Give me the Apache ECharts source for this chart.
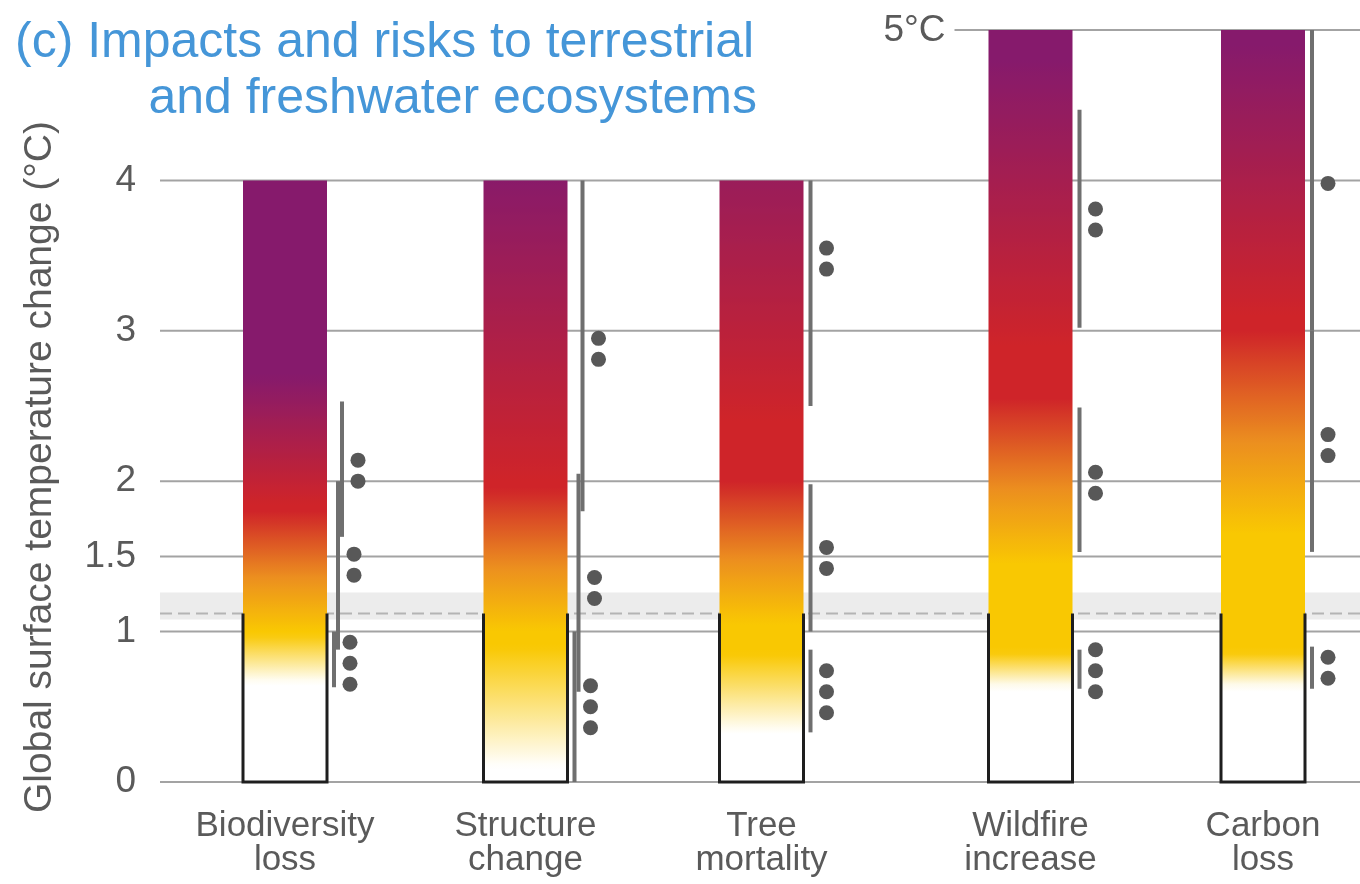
<!DOCTYPE html>
<html>
<head>
<meta charset="utf-8">
<script src="https://cdn.jsdelivr.net/npm/echarts@6/dist/echarts.min.js"></script>
<style>
  html, body { margin: 0; padding: 0; background: #ffffff; }
  #chart { width: 1360px; height: 884px; }
</style>
</head>
<body>
<div id="chart"></div>
<script>
// ---- data (°C of global surface temperature change) ----
const categories = ['Biodiversity\nloss', 'Structure\nchange', 'Tree\nmortality', 'Wildfire\nincrease', 'Carbon\nloss'];
const yTicks = [0, 1, 1.5, 2, 3, 4];
const topTick = 5;
const topTickLabel = '5°C';
const emberTop = [4, 4, 4, 5, 5];

// colour transitions of each ember: white->yellow, yellow->red, red->purple
const toModerate = [[0.66, 0.98], [0.10, 0.90], [0.33, 0.85], [0.63, 0.86], [0.63, 0.86]];
const toHigh     = [[1.00, 1.80], [1.00, 1.95], [1.05, 2.00], [1.45, 2.55], [1.65, 3.00]];
const toVeryHigh = [[1.85, 2.70], [2.00, 4.10], [2.40, 4.60], [2.90, 4.80], [3.10, 4.90]];

// confidence ranges of the transitions, number of dots and where the dots sit
const moderateRange  = [[0.63, 1.00], [0.00, 1.00], [0.33, 0.88], [0.62, 0.88], [0.62, 0.90]];
const moderateDots   = [3, 3, 3, 3, 2];
const moderateDotsAt = [0.79, 0.50, 0.60, 0.74, 0.76];
const highRange      = [[0.88, 2.00], [0.60, 2.05], [1.00, 1.98], [1.53, 2.49], [1.53, 3.00]];
const highDots       = [2, 2, 2, 2, 2];
const highDotsAt     = [1.445, 1.29, 1.49, 1.99, 2.24];
const veryHighRange  = [[1.63, 2.53], [1.80, 4.00], [2.50, 4.00], [3.02, 4.47], [3.00, 5.00]];
const veryHighDots   = [2, 2, 2, 2, 1];
const veryHighDotsAt = [2.07, 2.88, 3.48, 3.74, 3.98];

// present-day warming band and level
const presentDayBand = [1.08, 1.26];
const presentDay = 1.12;

// ---- styling / layout ----
const FONT = '"Liberation Sans", Arial, sans-serif';
const TEXT = '#5a5a5a';
const GRID = '#a3a3a3';
const EMBER_COLORS = { white: '#ffffff', yellow: '#f9c802', orange: '#ec8f1f', red: '#cf2429', purple: '#861a6c' };
const EMBER_WIDTH = 84;
const columnNudge = [5, 5.5, 1.5, 30.5, 23];   // px shift of each column from its band centre

function hexToRgb(h) {
  const n = parseInt(h.slice(1), 16);
  return [(n >> 16) & 255, (n >> 8) & 255, n & 255];
}
function mix(c1, c2, t) {
  const a = hexToRgb(c1), b = hexToRgb(c2);
  const r = a.map((v, k) => Math.round(v + (b[k] - v) * t));
  return 'rgb(' + r.join(',') + ')';
}
function emberColourAt(i, v) {
  const [a1, b1] = toModerate[i], [a2, b2] = toHigh[i], [a3, b3] = toVeryHigh[i];
  const keys = [
    [a1, EMBER_COLORS.white], [b1, EMBER_COLORS.yellow],
    [a2, EMBER_COLORS.yellow], [a2 + 0.45 * (b2 - a2), EMBER_COLORS.orange], [b2, EMBER_COLORS.red],
    [a3, EMBER_COLORS.red], [b3, EMBER_COLORS.purple]
  ];
  if (v <= keys[0][0]) return mix(keys[0][1], keys[0][1], 0);
  for (let k = 1; k < keys.length; k++) {
    if (v <= keys[k][0]) {
      const span = keys[k][0] - keys[k - 1][0];
      const t = span > 0 ? (v - keys[k - 1][0]) / span : 1;
      return mix(keys[k - 1][1], keys[k][1], t);
    }
  }
  return mix(keys[keys.length - 1][1], keys[keys.length - 1][1], 0);
}
function emberGradient(i) {
  const top = emberTop[i];
  const steps = 100;
  const stops = [];
  for (let s = 0; s <= steps; s++) {
    const v = top * s / steps;
    stops.push({ offset: s / steps, color: emberColourAt(i, v) });
  }
  return new echarts.graphic.LinearGradient(0, 1, 0, 0, stops);
}
function columnX(api, i) {
  return api.coord([i, 0])[0] + columnNudge[i];
}

const chart = echarts.init(document.getElementById('chart'), null, { renderer: 'canvas' });

const confidenceSets = [
  { range: moderateRange, dots: moderateDots, at: moderateDotsAt },
  { range: highRange, dots: highDots, at: highDotsAt },
  { range: veryHighRange, dots: veryHighDots, at: veryHighDotsAt }
];

const option = {
  backgroundColor: '#ffffff',
  animation: false,
  grid: { left: 160, right: 0, top: 30, bottom: 102 },
  xAxis: {
    type: 'category',
    data: categories,
    axisLine: { show: false },
    axisTick: { show: false },
    axisLabel: { show: false },
    splitLine: { show: false }
  },
  yAxis: {
    type: 'value',
    min: 0,
    max: topTick,
    axisLine: { show: false },
    axisTick: { show: false },
    splitLine: { show: false },
    axisLabel: {
      customValues: yTicks,
      fontFamily: FONT,
      fontSize: 37,
      color: TEXT,
      margin: 24
    }
  },
  graphic: [
    {
      type: 'text', left: 15, top: 18, z: 10,
      style: { text: '(c) Impacts and risks to terrestrial', font: '50px ' + FONT, fill: '#4596d8' }
    },
    {
      type: 'text', right: 603, top: 74, z: 10,
      style: { text: 'and freshwater ecosystems', font: '50px ' + FONT, fill: '#4596d8' }
    },
    {
      type: 'text', x: 40, y: 467, rotation: Math.PI / 2, z: 10,
      style: {
        text: 'Global surface temperature change (°C)', font: '39px ' + FONT, fill: TEXT,
        align: 'center', verticalAlign: 'middle'
      }
    }
  ],
  series: [
    {
      // present-day band with dashed level line
      type: 'custom', z: 1, silent: true,
      data: [[0, presentDayBand[0], presentDayBand[1], presentDay]],
      renderItem: function (params, api) {
        const cs = params.coordSys;
        const yLo = api.coord([0, api.value(1)])[1];
        const yHi = api.coord([0, api.value(2)])[1];
        const yMid = api.coord([0, api.value(3)])[1];
        return {
          type: 'group',
          children: [
            { type: 'rect', shape: { x: cs.x, y: yHi, width: cs.width, height: yLo - yHi }, style: { fill: '#ececec' } },
            { type: 'line', shape: { x1: cs.x, y1: yMid, x2: cs.x + cs.width, y2: yMid },
              style: { stroke: '#b4b4b4', lineWidth: 2, lineDash: [12, 6] } }
          ]
        };
      }
    },
    {
      // horizontal reference rules
      type: 'custom', z: 2, silent: true,
      data: yTicks.map(v => [0, v]),
      renderItem: function (params, api) {
        const cs = params.coordSys;
        const y = api.coord([0, api.value(1)])[1];
        return { type: 'line', shape: { x1: cs.x, y1: y, x2: cs.x + cs.width, y2: y },
          style: { stroke: GRID, lineWidth: 2 } };
      }
    },
    {
      // top rule, shown only above the taller embers
      type: 'custom', z: 2, silent: true,
      data: [[3, topTick]],
      renderItem: function (params, api) {
        const cs = params.coordSys;
        const i = api.value(0);
        const y = api.coord([i, api.value(1)])[1];
        const x0 = columnX(api, i) - 76;
        return {
          type: 'group',
          children: [
            { type: 'line', shape: { x1: x0, y1: y, x2: cs.x + cs.width, y2: y }, style: { stroke: GRID, lineWidth: 2 } },
            { type: 'text', x: x0 - 9, y: y + 1,
              style: { text: topTickLabel, font: '37px ' + FONT, fill: TEXT, align: 'right', verticalAlign: 'middle' } }
          ]
        };
      }
    },
    {
      // burning embers
      type: 'custom', z: 3, silent: true,
      data: categories.map((c, i) => [i, emberTop[i]]),
      renderItem: function (params, api) {
        const i = api.value(0);
        const cx = columnX(api, i);
        const y0 = api.coord([i, 0])[1];
        const yTop = api.coord([i, api.value(1)])[1];
        const yP = api.coord([i, presentDay])[1];
        const half = EMBER_WIDTH / 2;
        return {
          type: 'group',
          children: [
            { type: 'rect', shape: { x: cx - half, y: yTop, width: EMBER_WIDTH, height: y0 - yTop },
              style: { fill: emberGradient(i) } },
            { type: 'polyline', shape: { points: [[cx - half, yP], [cx - half, y0], [cx + half, y0], [cx + half, yP]] },
              style: { stroke: '#1e1e1e', lineWidth: 3, fill: null } }
          ]
        };
      }
    },
    {
      // confidence ranges and dots
      type: 'custom', z: 4, silent: true,
      data: categories.map((c, i) => [i, emberTop[i]]),
      renderItem: function (params, api) {
        const i = api.value(0);
        const right = columnX(api, i) + EMBER_WIDTH / 2;
        const r = confidenceSets.map(s => s.range[i]);
        const overlapping = r[0][1] > r[1][0] + 0.01 || r[1][1] > r[2][0] + 0.01;
        const lanes = overlapping ? [7, 11, 15] : [7, 7, 7];
        const children = [];
        confidenceSets.forEach((set, k) => {
          const lx = right + lanes[k];
          const yA = api.coord([i, set.range[i][0]])[1];
          const yB = api.coord([i, set.range[i][1]])[1];
          children.push({ type: 'line', shape: { x1: lx, y1: yA, x2: lx, y2: yB },
            style: { stroke: '#6f6f6f', lineWidth: 4 } });
          const n = set.dots[i];
          const yc = api.coord([i, set.at[i]])[1];
          for (let d = 0; d < n; d++) {
            const dy = (d - (n - 1) / 2) * 21;
            children.push({ type: 'circle', shape: { cx: lx + 16, cy: yc + dy, r: 7.5 }, style: { fill: '#585858' } });
          }
        });
        return { type: 'group', children: children };
      }
    },
    {
      // category names under each ember
      type: 'custom', z: 5, silent: true,
      data: categories.map((c, i) => [i, 0]),
      renderItem: function (params, api) {
        const i = api.value(0);
        const cx = columnX(api, i);
        const y0 = api.coord([i, 0])[1];
        return { type: 'text', x: cx, y: y0 + 27,
          style: { text: categories[i], font: '35px ' + FONT, fill: TEXT, align: 'center', verticalAlign: 'top', lineHeight: 34 } };
      }
    }
  ]
};

chart.setOption(option);
</script>
</body>
</html>
